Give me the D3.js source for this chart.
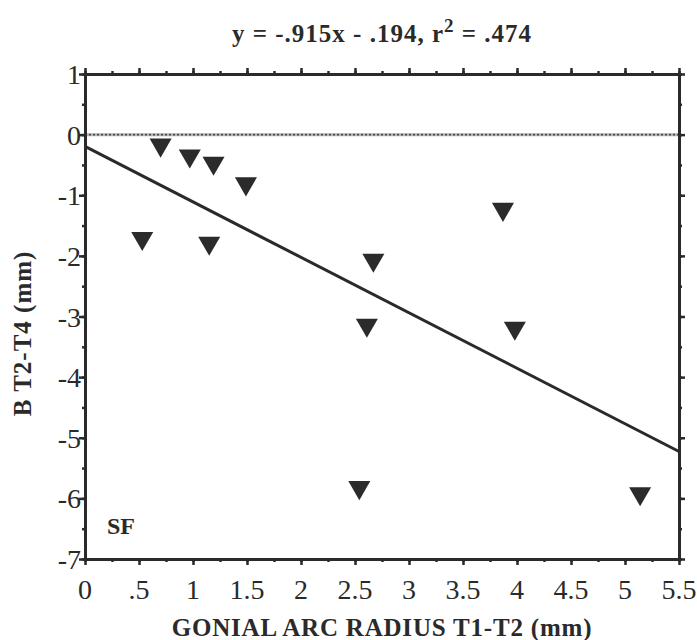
<!DOCTYPE html>
<html><head><meta charset="utf-8">
<script src="https://cdn.jsdelivr.net/npm/d3@7/dist/d3.min.js"></script>
<style>body{margin:0;background:#fff}</style>
</head><body>
<svg id="c" width="697" height="640"></svg>
<script>
const xVals = [0.70, 0.97, 1.19, 1.49, 0.53, 1.15, 2.67, 2.61, 3.87, 3.98, 2.54, 5.14];
const yVals = [-0.17, -0.35, -0.47, -0.81, -1.71, -1.79, -2.07, -3.14, -1.23, -3.19, -5.82, -5.92];
const slope = -0.915, intercept = -0.194;
const xTickVals = [0, 0.5, 1, 1.5, 2, 2.5, 3, 3.5, 4, 4.5, 5, 5.5];
const xTickLabels = ["0", ".5", "1", "1.5", "2", "2.5", "3", "3.5", "4", "4.5", "5", "5.5"];
const yTickVals = [1, 0, -1, -2, -3, -4, -5, -6, -7];
const titleText = "y = -.915x - .194, r";
const titleSup = "2";
const titleEnd = " = .474";
const xTitle = "GONIAL ARC RADIUS T1-T2 (mm)";
const yTitle = "B T2-T4 (mm)";
const panelLabel = "SF";

const svg = d3.select("#c");
const L = 85, R = 679, T = 74, B = 559;
const x = d3.scaleLinear().domain([0, 5.5]).range([L, R]);
const y = d3.scaleLinear().domain([-7, 1]).range([B, T]);
const font = "'Liberation Serif', 'DejaVu Serif', serif";
const ink = "#2a2a2a";

// zero line (wavy gray band)
svg.append("line").attr("x1", x(0)).attr("x2", x(5.5)).attr("y1", y(0)).attr("y2", y(0))
  .attr("stroke", "#b4b4b4").attr("stroke-width", 3);
svg.append("line").attr("x1", x(0)).attr("x2", x(5.5)).attr("y1", y(0)).attr("y2", y(0))
  .attr("stroke", "#505050").attr("stroke-width", 1.6).attr("stroke-dasharray", "2,2");

// regression line
svg.append("line").attr("x1", x(0)).attr("x2", x(5.5))
  .attr("y1", y(intercept)).attr("y2", y(intercept + slope * 5.5))
  .attr("stroke", ink).attr("stroke-width", 3);

// axes
const minorX = d3.range(0, 5.51, 0.25);
const minorY = d3.range(-7, 1.01, 0.5);
function axisGroup(axis, tr) {
  const g = svg.append("g").attr("transform", tr).call(axis);
  g.selectAll("path,line").attr("stroke", ink);
  g.select(".domain").attr("stroke-width", 3);
  g.selectAll(".tick line").attr("stroke-width", 2.5);
  g.selectAll("text").remove();
  return g;
}
// minor ticks
axisGroup(d3.axisBottom(x).tickValues(minorX).tickSize(3).tickSizeOuter(0), `translate(0,${B})`);
axisGroup(d3.axisTop(x).tickValues(minorX).tickSize(3).tickSizeOuter(0), `translate(0,${T})`);
axisGroup(d3.axisLeft(y).tickValues(minorY).tickSize(3).tickSizeOuter(0), `translate(${L},0)`);
axisGroup(d3.axisRight(y).tickValues(minorY).tickSize(3).tickSizeOuter(0), `translate(${R},0)`);
// major ticks
axisGroup(d3.axisBottom(x).tickValues(xTickVals).tickSize(6).tickSizeOuter(0), `translate(0,${B})`);
axisGroup(d3.axisTop(x).tickValues(xTickVals).tickSize(6).tickSizeOuter(0), `translate(0,${T})`);
axisGroup(d3.axisLeft(y).tickValues(yTickVals).tickSize(6).tickSizeOuter(0), `translate(${L},0)`);
axisGroup(d3.axisRight(y).tickValues(yTickVals).tickSize(6).tickSizeOuter(0), `translate(${R},0)`);

// tick labels
svg.append("g").selectAll("text").data(xTickVals).join("text")
  .attr("x", d => x(d)).attr("y", B + 40).attr("text-anchor", "middle")
  .attr("font-family", font).attr("font-size", 28).attr("fill", ink)
  .text((d, i) => xTickLabels[i]);
svg.append("g").selectAll("text").data(yTickVals).join("text")
  .attr("x", L - 4).attr("y", d => y(d) + 10).attr("text-anchor", "end")
  .attr("font-family", font).attr("font-size", 28).attr("fill", ink)
  .text(d => d === 0 ? "0" : String(d));

// points
const tri = d3.symbol().type(d3.symbolTriangle).size(210);
svg.append("g").selectAll("path").data(xVals.map((v, i) => [v, yVals[i]])).join("path")
  .attr("d", tri)
  .attr("transform", d => `translate(${x(d[0])},${y(d[1])}) rotate(180)`)
  .attr("fill", "#2b2b2b");

// title
const t = svg.append("text").attr("x", (L + R) / 2).attr("y", 42).attr("text-anchor", "middle")
  .attr("font-family", font).attr("font-size", 25).attr("font-weight", "bold").attr("fill", ink)
  .attr("letter-spacing", 1);
t.append("tspan").text(titleText);
t.append("tspan").attr("dy", -10).attr("font-size", 19).text(titleSup);
t.append("tspan").attr("dy", 10).text(titleEnd);

// axis titles
svg.append("text").attr("x", (L + R) / 2).attr("y", 636).attr("text-anchor", "middle")
  .attr("font-family", font).attr("font-size", 25).attr("font-weight", "bold").attr("fill", ink)
  .attr("letter-spacing", 0.8).text(xTitle);
svg.append("text").attr("transform", `translate(31,${(T + B) / 2 + 17}) rotate(-90)`).attr("text-anchor", "middle")
  .attr("font-family", font).attr("font-size", 25).attr("font-weight", "bold").attr("fill", ink)
  .attr("letter-spacing", 1).text(yTitle);

svg.append("text").attr("x", 107).attr("y", 534)
  .attr("font-family", font).attr("font-size", 24).attr("font-weight", "bold").attr("fill", ink)
  .text(panelLabel);
</script>
</body></html>
